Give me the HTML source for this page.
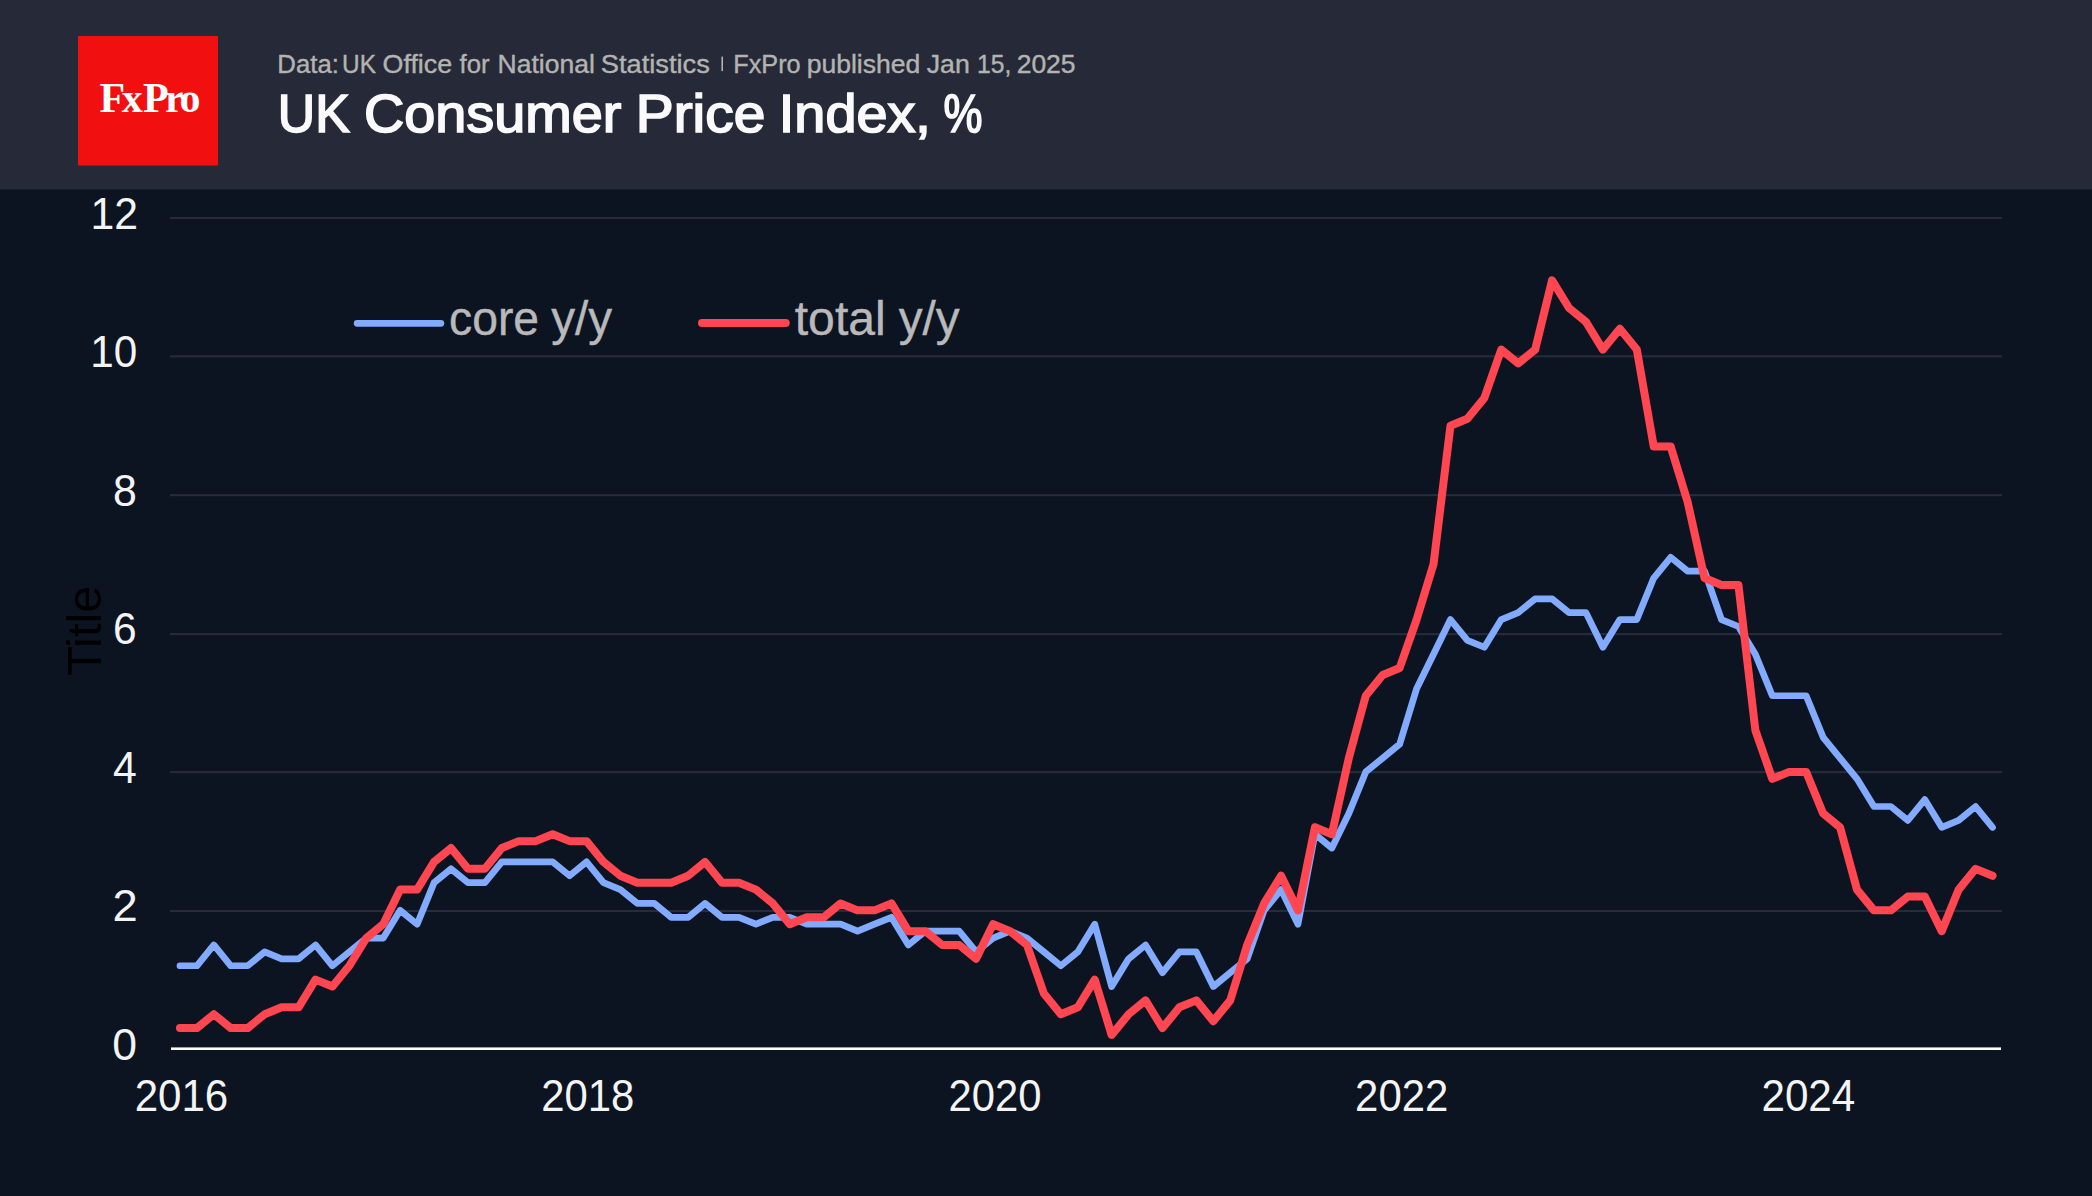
<!DOCTYPE html>
<html lang="en"><head><meta charset="utf-8"><title>UK Consumer Price Index, %</title>
<style>
html,body{margin:0;padding:0;background:#0d1421;}
body{width:2092px;height:1196px;overflow:hidden;}
svg{display:block;}
text{font-family:"Liberation Sans",sans-serif;}
.ti{font-size:53px;fill:#fafafa;stroke:#fafafa;stroke-width:1.7px;}
.su{font-size:25.6px;fill:#b3b3b1;stroke:#b3b3b1;stroke-width:0.4px;}
.ax{font-size:43.6px;fill:#f4f4f4;}
.yt{font-size:47.6px;fill:#000;}
.lg{font-size:47.3px;fill:#b9b9ba;stroke:#b9b9ba;stroke-width:0.4px;}
.logo{font-family:"Liberation Serif",serif;font-weight:bold;font-size:42px;fill:#fff;}
</style></head><body>
<svg width="2092" height="1196" viewBox="0 0 2092 1196">
<rect x="0" y="0" width="2092" height="1196" fill="#0d1421"/>
<rect x="0" y="0" width="2092" height="189.5" fill="#262937"/>
<rect x="78" y="36" width="140" height="129.5" fill="#f20f10"/>
<text class="logo" x="99.45 121.82 142.90 164.91 179.60" y="111.7">FxPro</text>
<rect x="721.5" y="56.6" width="1.4" height="14.5" fill="#c4c4c4"/>

<text class="su"><tspan x="277.35" y="72.60" textLength="61.57" lengthAdjust="spacingAndGlyphs">Data:</tspan> <tspan x="342.10" y="72.60" textLength="33.88" lengthAdjust="spacingAndGlyphs">UK</tspan> <tspan x="382.55" y="72.60" textLength="69.63" lengthAdjust="spacingAndGlyphs">Office</tspan> <tspan x="459.56" y="72.60" textLength="30.03" lengthAdjust="spacingAndGlyphs">for</tspan> <tspan x="497.64" y="72.60" textLength="97.17" lengthAdjust="spacingAndGlyphs">National</tspan> <tspan x="600.82" y="72.60" textLength="108.98" lengthAdjust="spacingAndGlyphs">Statistics</tspan></text>
<text class="su"><tspan x="733.28" y="72.60" textLength="67.33" lengthAdjust="spacingAndGlyphs">FxPro</tspan> <tspan x="806.65" y="72.60" textLength="113.60" lengthAdjust="spacingAndGlyphs">published</tspan> <tspan x="926.71" y="72.60" textLength="43.05" lengthAdjust="spacingAndGlyphs">Jan</tspan> <tspan x="977.11" y="72.60" textLength="34.20" lengthAdjust="spacingAndGlyphs">15,</tspan> <tspan x="1016.69" y="72.60" textLength="58.86" lengthAdjust="spacingAndGlyphs">2025</tspan></text>
<text class="ti"><tspan x="277.87" y="132.00" textLength="71.85" lengthAdjust="spacingAndGlyphs">UK</tspan> <tspan x="364.00" y="132.00" textLength="257.40" lengthAdjust="spacingAndGlyphs">Consumer</tspan> <tspan x="635.80" y="132.00" textLength="129.47" lengthAdjust="spacingAndGlyphs">Price</tspan> <tspan x="778.88" y="132.00" textLength="151.94" lengthAdjust="spacingAndGlyphs">Index,</tspan> <tspan x="943.51" y="132.00" textLength="39.06" lengthAdjust="spacingAndGlyphs">%</tspan></text>
<rect x="170" y="217.00" width="1832" height="2.05" fill="#262c3b"/>
<rect x="170" y="355.30" width="1832" height="2.05" fill="#262c3b"/>
<rect x="170" y="494.10" width="1832" height="2.05" fill="#262c3b"/>
<rect x="170" y="633.10" width="1832" height="2.05" fill="#262c3b"/>
<rect x="170" y="771.10" width="1832" height="2.05" fill="#262c3b"/>
<rect x="170" y="910.00" width="1832" height="2.05" fill="#262c3b"/>
<text class="ax" x="90.58" y="229.00" textLength="47.53" lengthAdjust="spacingAndGlyphs">12</text>
<text class="ax" x="90.32" y="367.47" textLength="46.97" lengthAdjust="spacingAndGlyphs">10</text>
<text class="ax" x="112.90" y="505.95" textLength="23.84" lengthAdjust="spacingAndGlyphs">8</text>
<text class="ax" x="113.05" y="644.42" textLength="23.63" lengthAdjust="spacingAndGlyphs">6</text>
<text class="ax" x="112.90" y="782.90" textLength="23.80" lengthAdjust="spacingAndGlyphs">4</text>
<text class="ax" x="112.57" y="921.37" textLength="25.20" lengthAdjust="spacingAndGlyphs">2</text>
<text class="ax" x="112.30" y="1059.85" textLength="24.77" lengthAdjust="spacingAndGlyphs">0</text>
<text class="ax" x="134.71" y="1110.80" textLength="93.53" lengthAdjust="spacingAndGlyphs">2016</text>
<text class="ax" x="541.22" y="1110.80" textLength="93.12" lengthAdjust="spacingAndGlyphs">2018</text>
<text class="ax" x="948.52" y="1110.80" textLength="92.89" lengthAdjust="spacingAndGlyphs">2020</text>
<text class="ax" x="1355.12" y="1110.80" textLength="93.21" lengthAdjust="spacingAndGlyphs">2022</text>
<text class="ax" x="1761.40" y="1110.80" textLength="93.97" lengthAdjust="spacingAndGlyphs">2024</text>
<text class="yt" transform="translate(101.4,674.7) rotate(-90)" x="-1.07" y="0" textLength="90.00" lengthAdjust="spacingAndGlyphs">Title</text>
<path d="M179.97,965.76 L196.91,965.76 L213.85,944.99 L230.79,965.76 L247.73,965.76 L264.67,951.92 L281.61,958.84 L298.55,958.84 L315.49,944.99 L332.43,965.76 L349.37,951.92 L366.31,938.07 L383.25,938.07 L400.19,910.37 L417.13,924.22 L434.07,882.68 L451.01,868.83 L467.95,882.68 L484.89,882.68 L501.83,861.91 L518.77,861.91 L535.71,861.91 L552.65,861.91 L569.59,875.76 L586.53,861.91 L603.47,882.68 L620.41,889.60 L637.34,903.45 L654.28,903.45 L671.22,917.30 L688.16,917.30 L705.10,903.45 L722.04,917.30 L738.98,917.30 L755.92,924.22 L772.86,917.30 L789.80,917.30 L806.74,924.22 L823.68,924.22 L840.62,924.22 L857.56,931.15 L874.50,924.22 L891.44,917.30 L908.38,944.99 L925.32,931.15 L942.26,931.15 L959.20,931.15 L976.14,951.92 L993.08,938.07 L1010.02,931.15 L1026.96,938.07 L1043.90,951.92 L1060.84,965.76 L1077.78,951.92 L1094.72,924.22 L1111.66,986.54 L1128.60,958.84 L1145.54,944.99 L1162.48,972.69 L1179.42,951.92 L1196.36,951.92 L1213.30,986.54 L1230.24,972.69 L1247.18,958.84 L1264.12,910.37 L1281.06,889.60 L1298.00,924.22 L1314.94,834.21 L1331.88,848.06 L1348.82,813.44 L1365.76,771.90 L1382.70,758.05 L1399.64,744.20 L1416.58,688.81 L1433.52,654.20 L1450.46,619.58 L1467.40,640.35 L1484.34,647.27 L1501.28,619.58 L1518.22,612.65 L1535.16,598.81 L1552.09,598.81 L1569.03,612.65 L1585.97,612.65 L1602.91,647.27 L1619.85,619.58 L1636.79,619.58 L1653.73,578.03 L1670.67,557.26 L1687.61,571.11 L1704.55,571.11 L1721.49,619.58 L1738.43,626.50 L1755.37,654.20 L1772.31,695.74 L1789.25,695.74 L1806.19,695.74 L1823.13,737.28 L1840.07,758.05 L1857.01,778.82 L1873.95,806.52 L1890.89,806.52 L1907.83,820.37 L1924.77,799.59 L1941.71,827.29 L1958.65,820.37 L1975.59,806.52 L1992.53,827.29" fill="none" stroke="#82aaff" stroke-width="6.7" stroke-linecap="round" stroke-linejoin="round"/>
<path d="M179.97,1028.08 L196.91,1028.08 L213.85,1014.23 L230.79,1028.08 L247.73,1028.08 L264.67,1014.23 L281.61,1007.31 L298.55,1007.31 L315.49,979.61 L332.43,986.54 L349.37,965.76 L366.31,938.07 L383.25,924.22 L400.19,889.60 L417.13,889.60 L434.07,861.91 L451.01,848.06 L467.95,868.83 L484.89,868.83 L501.83,848.06 L518.77,841.14 L535.71,841.14 L552.65,834.21 L569.59,841.14 L586.53,841.14 L603.47,861.91 L620.41,875.76 L637.34,882.68 L654.28,882.68 L671.22,882.68 L688.16,875.76 L705.10,861.91 L722.04,882.68 L738.98,882.68 L755.92,889.60 L772.86,903.45 L789.80,924.22 L806.74,917.30 L823.68,917.30 L840.62,903.45 L857.56,910.37 L874.50,910.37 L891.44,903.45 L908.38,931.15 L925.32,931.15 L942.26,944.99 L959.20,944.99 L976.14,958.84 L993.08,924.22 L1010.02,931.15 L1026.96,944.99 L1043.90,993.46 L1060.84,1014.23 L1077.78,1007.31 L1094.72,979.61 L1111.66,1035.00 L1128.60,1014.23 L1145.54,1000.38 L1162.48,1028.08 L1179.42,1007.31 L1196.36,1000.38 L1213.30,1021.15 L1230.24,1000.38 L1247.18,944.99 L1264.12,903.45 L1281.06,875.76 L1298.00,910.37 L1314.94,827.29 L1331.88,834.21 L1348.82,758.05 L1365.76,695.74 L1382.70,674.97 L1399.64,668.04 L1416.58,619.58 L1433.52,564.19 L1450.46,425.71 L1467.40,418.79 L1484.34,398.02 L1501.28,349.55 L1518.22,363.40 L1535.16,349.55 L1552.09,280.31 L1569.03,308.01 L1585.97,321.86 L1602.91,349.55 L1619.85,328.78 L1636.79,349.55 L1653.73,446.48 L1670.67,446.48 L1687.61,501.87 L1704.55,578.03 L1721.49,584.96 L1738.43,584.96 L1755.37,730.36 L1772.31,778.82 L1789.25,771.90 L1806.19,771.90 L1823.13,813.44 L1840.07,827.29 L1857.01,889.60 L1873.95,910.37 L1890.89,910.37 L1907.83,896.53 L1924.77,896.53 L1941.71,931.15 L1958.65,889.60 L1975.59,868.83 L1992.53,875.76" fill="none" stroke="#ff4651" stroke-width="8.0" stroke-linecap="round" stroke-linejoin="round"/>
<rect x="171" y="1047.4" width="1830.0" height="2.6" fill="#fbfbfb"/>
<path d="M357.1,323.3 L440.9,323.3" stroke="#82aaff" stroke-width="6.7" stroke-linecap="round" fill="none"/>
<path d="M702.0,322.9 L785.7,322.9" stroke="#ff4651" stroke-width="8.0" stroke-linecap="round" fill="none"/>
<text class="lg"><tspan x="449.00" y="335.40" textLength="90.08" lengthAdjust="spacingAndGlyphs">core</tspan> <tspan x="551.29" y="335.40" textLength="60.91" lengthAdjust="spacingAndGlyphs">y/y</tspan></text>
<text class="lg"><tspan x="794.75" y="335.40" textLength="90.97" lengthAdjust="spacingAndGlyphs">total</tspan> <tspan x="898.69" y="335.40" textLength="61.05" lengthAdjust="spacingAndGlyphs">y/y</tspan></text>
</svg></body></html>
